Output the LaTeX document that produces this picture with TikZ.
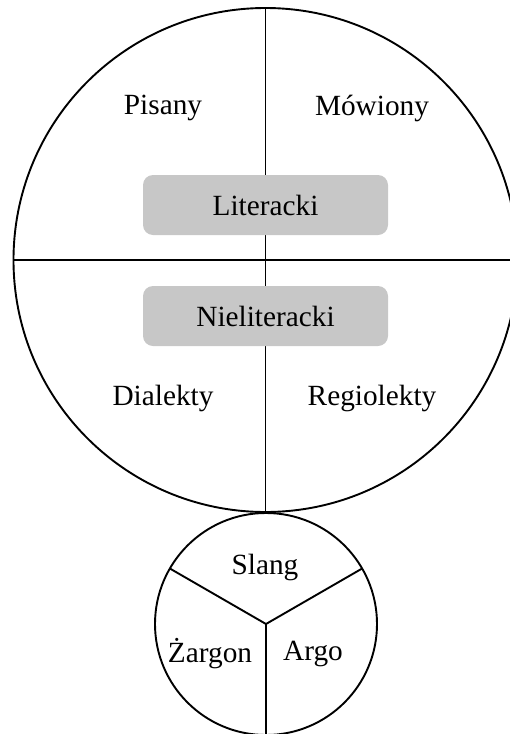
\documentclass[tikz,border=0pt]{standalone}
\usepackage{fontspec}
\setmainfont{Liberation Serif}
\begin{document}
\begin{tikzpicture}[x=1pt,y=-1pt,line width=1.9pt,
  ring/.style={draw,circle,inner sep=0pt,outer sep=0pt},
  label/.style={font=\fontsize{29.3}{34}\selectfont,inner sep=0pt},
  graybox/.style={fill=black!22,rounded corners=10pt,minimum width=245pt,minimum height=60pt,inner sep=0pt,font=\fontsize{29.3}{34}\selectfont}]
\useasboundingbox (0,0) rectangle (510,734);
\clip (0,0) rectangle (510,734);
\node[ring,minimum size=504pt] (big) at (265.5,260) {};
\node[ring,minimum size=222pt] (small) at (266,624) {};
\draw (big.north) -- (big.south);
\draw (big.west) -- (big.east);
\draw (small.center) -- (small.150);
\draw (small.center) -- (small.30);
\draw (small.center) -- (small.south);
\node[graybox] (lit) at (265.5,205) {Literacki};
\node[graybox] (nlit) at (265.5,316) {Nieliteracki};
\node[label] (pis) at (163,108) {Pisany};
\node[label] (mow) at (372,108) {Mówiony};
\node[label] (dia) at (163,398) {Dialekty};
\node[label] (reg) at (372,398) {Regiolekty};
\node[label] (sla) at (265,567) {Slang};
\node[label] (zar) at (210,654) {Żargon};
\node[label] (arg) at (313,654) {Argo};
\end{tikzpicture}
\end{document}
